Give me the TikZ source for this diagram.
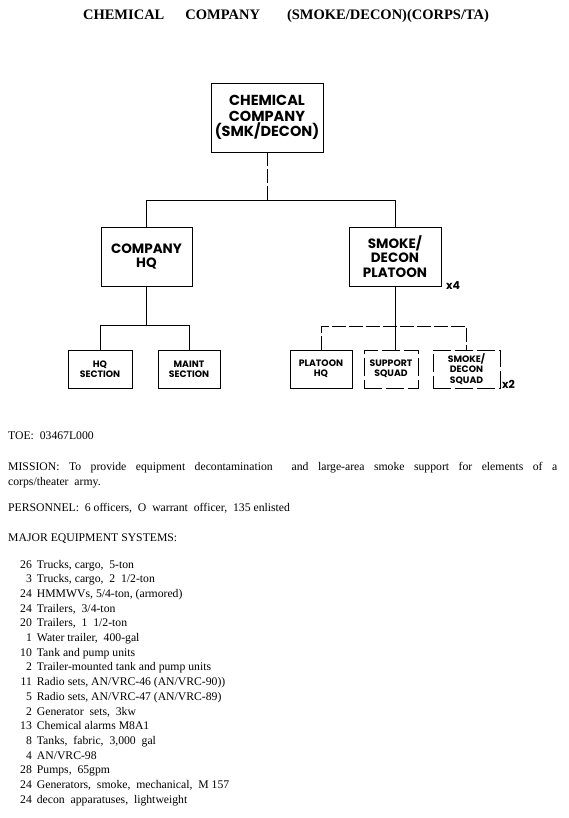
\documentclass[tikz,border=0pt]{standalone}
\usepackage{fontspec}
\setmainfont{Liberation Serif}
\newfontfamily\orgfont{Poppins}
\usetikzlibrary{positioning}
\tikzset{
  unit/.style={draw, line width=0.9pt, align=center, inner sep=0pt,
    font=\orgfont\bfseries\fontsize{13.5}{14.5}\selectfont},
  smallunit/.style={unit, minimum height=38pt,
    font=\orgfont\bfseries\fontsize{9.3}{10.3}\selectfont},
  dashunit/.style={smallunit, dash pattern=on 18pt off 4pt},
  link/.style={line width=0.8pt},
  dashlink/.style={link, dash pattern=on 14pt off 3pt},
  mult/.style={anchor=base west, inner sep=0pt, font=\orgfont\bfseries\fontsize{11}{12}\selectfont},
  body/.style={anchor=base west, inner sep=0pt, font=\fontsize{11.7}{14.7}\selectfont}
}
\begin{document}
\begin{tikzpicture}[x=1pt, y=-1pt]
\useasboundingbox (0,0) rectangle (568,818);
% title
\node[anchor=base, inner sep=0pt, font=\bfseries\fontsize{14.5}{16}\selectfont] (title) at (286,20)
  {CHEMICAL\hspace{21pt}COMPANY\hspace{27pt}(SMOKE/DECON)(CORPS/TA)};

% chart
\node[unit, minimum width=112pt, minimum height=69pt, font=\orgfont\bfseries\fontsize{14.5}{15.5}\selectfont] (co) at (267,117.5) {CHEMICAL\\COMPANY\\(SMK/DECON)};
\node[unit, minimum width=91pt, minimum height=59pt] (hq) at (146.5,256.5) {COMPANY\\HQ};
\node[unit, minimum width=92pt, minimum height=59pt] (plt) at (395,256.5) {SMOKE/\\DECON\\PLATOON};
\node[mult] (pltx) at (446,289) {x4};
\node[smallunit, minimum width=64pt] (hqsec) at (100,369) {HQ\\SECTION};
\node[smallunit, minimum width=62pt] (maint) at (189,369) {MAINT\\SECTION};
\node[smallunit, minimum width=62pt] (plthq) at (321,369) {PLATOON\\HQ};
\node[dashunit, minimum width=54pt] (supsq) at (391,369) {SUPPORT\\SQUAD};
\node[dashunit, minimum width=67pt] (sdsq) at (466.5,369) {SMOKE/\\DECON\\SQUAD};
\node[mult] (sdsqx) at (502,388) {x2};

\draw[dashlink] (co.south) -- ++(0,48) coordinate (cosplit);
\draw[link] (hq.north) |- (cosplit) -| (plt.north);
\draw[link] (hq.south) -- ++(0,39) coordinate (hqsplit);
\draw[link] (hqsec.north) |- (hqsplit) -| (maint.north);
\path (plt.south) ++(0,40) coordinate (pltsplit);
\draw[link] (plt.south) -- (plt.south |- supsq.north);
\draw[dashlink] (plthq.north) |- (pltsplit) -| (sdsq.north);

% text
\node[body] (toe) at (8,439) {TOE:\ \ 03467L000};
\node[body] (mission) at (8,470) {\makebox[549pt][s]{MISSION: To provide equipment decontamination\ \ and large-area smoke support for elements of a}};
\node[body] (mission2) at (8,485) {corps/theater\ \ army.};
\node[body] (pers) at (8,511) {PERSONNEL:\ \ 6 officers,\ \ O\ \ warrant\ \ officer,\ \ 135 enlisted};
\node[body] (major) at (8,541) {MAJOR EQUIPMENT SYSTEMS:};
\node[body] (equip) at (20,568) {\begin{tabular}[t]{@{}r@{\hspace{5pt}}l@{}}
26 & Trucks, cargo,\ \ 5-ton\\
3 & Trucks, cargo,\ \ 2\ \ 1/2-ton\\
24 & HMMWVs, 5/4-ton, (armored)\\
24 & Trailers,\ \ 3/4-ton\\
20 & Trailers,\ \ 1\ \ 1/2-ton\\
1 & Water trailer,\ \ 400-gal\\
10 & Tank and pump units\\
2 & Trailer-mounted tank and pump units\\
11 & Radio sets, AN/VRC-46 (AN/VRC-90))\\
5 & Radio sets, AN/VRC-47 (AN/VRC-89)\\
2 & Generator\ \ sets,\ \ 3kw\\
13 & Chemical alarms M8A1\\
8 & Tanks,\ \ fabric,\ \ 3,000\ \ gal\\
4 & AN/VRC-98\\
28 & Pumps,\ \ 65gpm\\
24 & Generators,\ \ smoke,\ \ mechanical,\ \ M 157\\
24 & decon\ \ apparatuses,\ \ lightweight
\end{tabular}};
\end{tikzpicture}
\end{document}
